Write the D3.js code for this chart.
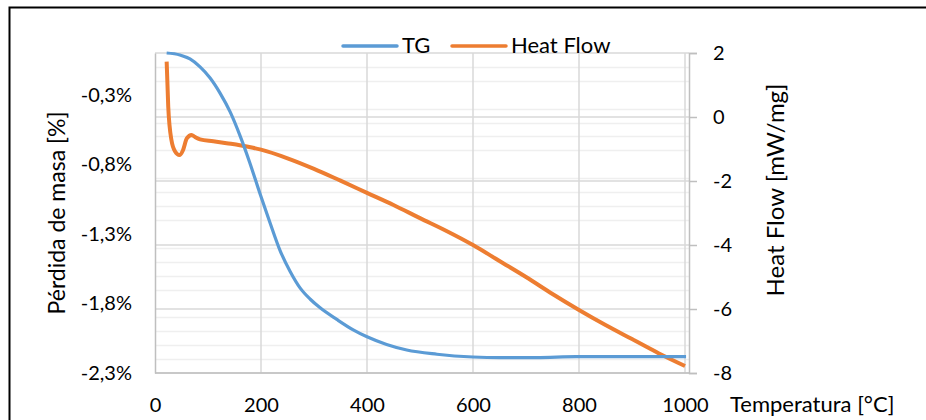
<!DOCTYPE html>
<html>
<head>
<meta charset="utf-8">
<script src="https://cdn.jsdelivr.net/npm/d3@7"></script>
<style>
  body { margin: 0; background: #fff; }
  svg { display: block; font-family: Lato, "Open Sans", sans-serif; }
</style>
</head>
<body>
<div id="chart"></div>
<script>
var width = 926
var height = 420

// TG curve (mass loss, %)
var tgTemp = [22, 47, 66, 85, 104, 123, 142, 160, 179, 198, 217, 236, 255, 274, 293, 311, 343, 374, 400, 437, 475, 532, 600, 651, 720, 795, 877, 915, 1002]
var tgMass = [0, -0.014, -0.043, -0.10, -0.18, -0.29, -0.425, -0.59, -0.79, -1.01, -1.22, -1.42, -1.57, -1.69, -1.77, -1.83, -1.915, -1.99, -2.04, -2.095, -2.135, -2.165, -2.185, -2.19, -2.19, -2.183, -2.183, -2.183, -2.183]

// Heat flow curve (mW/mg)
var hfTemp = [22, 25, 31, 38, 46, 53, 60, 69, 75, 85, 110, 135, 160, 185, 200, 250, 300, 350, 400, 450, 500, 550, 600, 650, 700, 750, 800, 850, 900, 950, 1000]
var hfValue = [1.73, 0.32, -0.72, -1.08, -1.19, -1.03, -0.67, -0.56, -0.62, -0.70, -0.76, -0.82, -0.88, -0.96, -1.02, -1.29, -1.62, -1.99, -2.37, -2.75, -3.16, -3.56, -4.0, -4.5, -5.0, -5.53, -6.03, -6.5, -6.94, -7.38, -7.78]

var xTicks = [0, 200, 400, 600, 800, 1000]
var xTickLabels = ["0", "200", "400", "600", "800", "1000"]
var leftTicks = [-2.3, -1.8, -1.3, -0.8, -0.3]
var leftTickLabels = ["-2,3%", "-1,8%", "-1,3%", "-0,8%", "-0,3%"]
var rightTicks = [-8, -6, -4, -2, 0, 2]
var rightTickLabels = ["-8", "-6", "-4", "-2", "0", "2"]
var seriesNames = ["TG", "Heat Flow"]
var seriesColors = ["#5B9BD5", "#ED7D31"]

var plot = {left: 155, right: 689, top: 53, bottom: 373}

var svg = d3.select("#chart")
  .append("svg")
    .attr("width", width)
    .attr("height", height)

// outer frame (runs off the right and bottom edge like the picture)
svg.append("rect")
  .attr("x", 9.5).attr("y", 7.5)
  .attr("width", 1000).attr("height", 600)
  .attr("fill", "none").attr("stroke", "#000").attr("stroke-width", 2)

var x = d3.scaleLinear().domain([0, 1000]).range([plot.left, 685])
var yL = d3.scaleLinear().domain([-2.3, 0]).range([plot.bottom, plot.top])
var yR = d3.scaleLinear().domain([-8, 2]).range([plot.bottom, plot.top])

// minor gridlines from the left axis (0.1 steps, majors not drawn)
var minor = d3.range(-22, 0).map(d => d / 10)
  .filter(d => !leftTicks.some(t => Math.abs(t - d) < 1e-6))
svg.append("g").selectAll("line").data(minor)
  .enter().append("line")
    .attr("x1", plot.left).attr("x2", plot.right)
    .attr("y1", d => Math.round(yL(d)) + 0.5).attr("y2", d => Math.round(yL(d)) + 0.5)
    .attr("stroke", "#efefef").attr("stroke-width", 1.5)

// major gridlines from the right axis
svg.append("g").selectAll("line").data(rightTicks)
  .enter().append("line")
    .attr("x1", plot.left).attr("x2", plot.right)
    .attr("y1", d => yR(d)).attr("y2", d => yR(d))
    .attr("stroke", "#d9d9d9").attr("stroke-width", 1.5)

// vertical gridlines
svg.append("g").selectAll("line").data(xTicks.slice(1))
  .enter().append("line")
    .attr("x1", d => x(d)).attr("x2", d => x(d))
    .attr("y1", plot.top).attr("y2", plot.bottom)
    .attr("stroke", "#d9d9d9").attr("stroke-width", 1.5)

// axes
var xAxis = svg.append("g")
  .attr("transform", `translate(0,${plot.bottom})`)
  .call(d3.axisBottom(x).tickValues(xTicks).tickSize(0).tickPadding(25)
    .tickFormat((d, i) => xTickLabels[i]))
xAxis.select(".domain").remove()
svg.append("line")
  .attr("x1", plot.left).attr("x2", plot.right + 1)
  .attr("y1", plot.bottom).attr("y2", plot.bottom)
  .attr("stroke", "#bfbfbf").attr("stroke-width", 1.5)

var leftAxis = svg.append("g")
  .attr("transform", `translate(${plot.left},0)`)
  .call(d3.axisLeft(yL).tickValues(leftTicks).tickSize(0).tickPadding(23)
    .tickFormat((d, i) => leftTickLabels[i]))
leftAxis.select(".domain").attr("stroke", "#bfbfbf").attr("stroke-width", 1.5)

var rightAxis = svg.append("g")
  .attr("transform", `translate(${plot.right},0)`)
  .call(d3.axisRight(yR).tickValues(rightTicks).tickSize(8).tickPadding(16)
    .tickFormat((d, i) => rightTickLabels[i]))
rightAxis.select(".domain").attr("stroke", "#bfbfbf").attr("stroke-width", 1.5)
rightAxis.selectAll(".tick line").attr("stroke", "#bfbfbf").attr("stroke-width", 1.5)

svg.selectAll(".tick text")
  .attr("font-family", "Lato, 'Open Sans', sans-serif")
  .attr("font-size", 20)
  .attr("fill", "#000")

// series
var tgData = tgTemp.map((t, i) => [t, tgMass[i]])
var hfData = hfTemp.map((t, i) => [t, hfValue[i]])

svg.append("path")
  .datum(hfData)
  .attr("fill", "none")
  .attr("stroke", seriesColors[1])
  .attr("stroke-width", 4)
  .attr("d", d3.line().x(d => x(d[0])).y(d => yR(d[1])).curve(d3.curveMonotoneX))

svg.append("path")
  .datum(tgData)
  .attr("fill", "none")
  .attr("stroke", seriesColors[0])
  .attr("stroke-width", 3.2)
  .attr("d", d3.line().x(d => x(d[0])).y(d => yL(d[1])).curve(d3.curveMonotoneX))

// axis titles
svg.append("text")
  .attr("transform", "translate(56,213) rotate(-90)")
  .attr("text-anchor", "middle")
  .attr("dominant-baseline", "central")
  .attr("font-size", 23)
  .text("Pérdida de masa [%]")

svg.append("text")
  .attr("transform", "translate(774,190) rotate(-90)")
  .attr("text-anchor", "middle")
  .attr("dominant-baseline", "central")
  .attr("font-size", 24)
  .text("Heat Flow [mW/mg]")

svg.append("text")
  .attr("x", 730).attr("y", 412)
  .attr("font-size", 22)
  .text("Temperatura [°C]")

// legend
var legendX = [343, 452]
var legend = svg.append("g").selectAll("g").data(seriesNames)
  .enter().append("g")
legend.append("line")
  .attr("x1", (d, i) => legendX[i]).attr("x2", (d, i) => legendX[i] + 54)
  .attr("y1", 46).attr("y2", 46)
  .attr("stroke", (d, i) => seriesColors[i]).attr("stroke-width", 3.5)
  .attr("stroke-linecap", "round")
legend.append("text")
  .attr("x", (d, i) => legendX[i] + 59).attr("y", 53)
  .attr("font-size", 22)
  .text(d => d)
</script>
</body>
</html>
